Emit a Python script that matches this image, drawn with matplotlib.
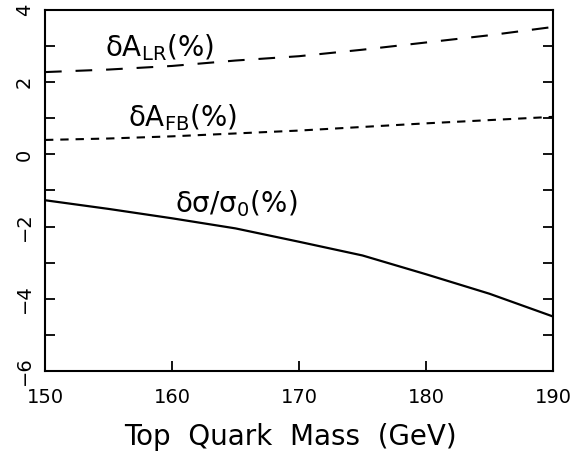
import matplotlib
matplotlib.use("Agg")
import matplotlib.pyplot as plt
from matplotlib.ticker import MultipleLocator

plt.rcParams['lines.scale_dashes'] = False
plt.rcParams['font.family'] = ['DejaVu Sans']
plt.rcParams['mathtext.fontset'] = 'dejavusans'

mass = [150, 155, 160, 165, 170, 175, 180, 185, 190]
dA_LR = [2.28, 2.35, 2.45, 2.60, 2.72, 2.90, 3.10, 3.30, 3.53]
dA_FB = [0.40, 0.44, 0.50, 0.58, 0.66, 0.76, 0.86, 0.95, 1.04]
dsigma = [-1.27, -1.51, -1.77, -2.05, -2.42, -2.80, -3.32, -3.86, -4.49]

xticks = [150, 160, 170, 180, 190]
yticks = [-6, -4, -2, 0, 2, 4]

fig = plt.figure(figsize=(5.72, 4.67), dpi=100)
ax = fig.add_axes([0.0787, 0.2056, 0.888, 0.773])

ax.plot(mass, dA_LR, color='black', lw=1.5, dashes=(12, 10))
ax.plot(mass, dA_FB, color='black', lw=1.5, dashes=(6, 5))
ax.plot(mass, dsigma, color='black', lw=1.6)

ax.set_xlim(150, 190)
ax.set_ylim(-6, 4)
ax.set_xticks(xticks)
ax.set_yticks(yticks)
ax.yaxis.set_minor_locator(MultipleLocator(1))
for s in ax.spines.values():
    s.set_linewidth(1.5)

ax.tick_params(axis='both', which='both', direction='in', length=7, width=1.3,
               labelsize=14)
ax.tick_params(axis='y', which='both', right=True, left=True, pad=8)
ax.tick_params(axis='x', top=False, pad=12)
for lab in ax.get_yticklabels():
    lab.set_rotation(90)
    lab.set_va('center')

fig.text(290 / 572, 1 - 445 / 467, 'Top  Quark  Mass  (GeV)', fontsize=20,
         ha='center', va='baseline')

ax.text(154.7, 2.71, 'δA$_{\\rm LR}$(%)', fontsize=20, ha='left', va='baseline')
ax.text(156.5, 0.79, 'δA$_{\\rm FB}$(%)', fontsize=20, ha='left', va='baseline')
ax.text(160.2, -1.59, 'δσ/σ$_0$(%)', fontsize=20, ha='left', va='baseline')

fig.savefig('out.png', dpi=100)
